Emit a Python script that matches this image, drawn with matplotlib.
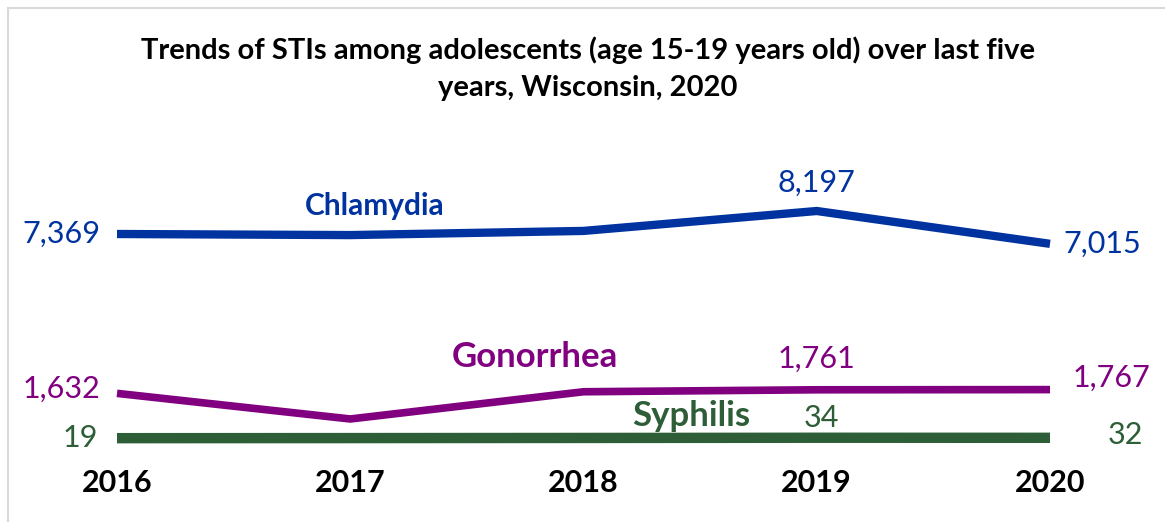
import matplotlib.pyplot as plt
from matplotlib.patches import Rectangle

years = ["2016", "2017", "2018", "2019", "2020"]
chlamydia = [7369, 7330, 7480, 8197, 7015]
gonorrhea = [1632, 710, 1690, 1761, 1767]
syphilis = [19, 22, 27, 34, 32]

BLUE = "#0033A0"
PURPLE = "#800080"
GREEN = "#2E5E37"
FONT = "Lato"

W, H = 1165, 522
fig = plt.figure(figsize=(W / 100, H / 100), dpi=100)

# chart area border (Excel style)
fig.patches.append(Rectangle((8 / W, -0.1), 1.2, 1 - 8 / H + 0.1, transform=fig.transFigure,
                             fill=False, edgecolor="#D9D9D9", linewidth=1.5))

# plot area: 2016 at x=117px, 2020 at x=1050px, y=0 at 438.7px, y=8197 at 211px
y0_px, ytop_px = 438.7, 211
ax = fig.add_axes([117 / W, 1 - y0_px / H, (1050 - 117) / W, (y0_px - ytop_px) / H])
ax.set_xlim(0, 4)
ax.set_ylim(0, 8197)

x = range(len(years))
ax.plot(x, syphilis, color=GREEN, lw=7.5, solid_capstyle="butt", solid_joinstyle="miter", clip_on=False)
ax.plot(x, gonorrhea, color=PURPLE, lw=5.5, solid_capstyle="butt", solid_joinstyle="miter", clip_on=False)
ax.plot(x, chlamydia, color=BLUE, lw=6, solid_capstyle="butt", solid_joinstyle="miter", clip_on=False)

for s in ax.spines.values():
    s.set_visible(False)
ax.set_yticks([])
ax.set_xticks(list(x))
ax.set_xticklabels(years, fontfamily=FONT, fontweight="bold", fontsize=22)
ax.tick_params(axis="x", length=0, pad=22)

lab = dict(fontfamily=FONT, fontsize=22, textcoords="offset pixels", va="center")


def label(series, i, dx, dy, ha, color):
    ax.annotate(f"{series[i]:,}", (i, series[i]), xytext=(dx, dy), ha=ha, color=color, **lab)


label(chlamydia, 0, -17, 0, "right", BLUE)
label(chlamydia, 3, 0, 28, "center", BLUE)
label(chlamydia, 4, 13, 0, "left", BLUE)
label(gonorrhea, 0, -17, 5, "right", PURPLE)
label(gonorrhea, 3, 0, 31, "center", PURPLE)
label(gonorrhea, 4, 23, 12, "left", PURPLE)
label(syphilis, 0, -19, 0, "right", GREEN)
label(syphilis, 3, 5, 20, "center", GREEN)
label(syphilis, 4, 58, 3, "left", GREEN)

# series names
ax.annotate("Chlamydia", (1, chlamydia[1]), xytext=(374 - 350, 236 - 207), textcoords="offset pixels",
            ha="center", va="center", color=BLUE, fontfamily=FONT, fontweight="bold", fontsize=21.5)
ax.annotate("Gonorrhea", (2, gonorrhea[2]), xytext=(534 - 583, 392 - 357), textcoords="offset pixels",
            ha="center", va="center", color=PURPLE, fontfamily=FONT, fontweight="bold", fontsize=25)
ax.annotate("Syphilis", (2, syphilis[2]), xytext=(691 - 583, 437 - 415), textcoords="offset pixels",
            ha="center", va="center", color=GREEN, fontfamily=FONT, fontweight="bold", fontsize=25)

fig.text(588 / W, 1 - 50 / H, "Trends of STIs among adolescents (age 15-19 years old) over last five",
         ha="center", va="center", fontfamily=FONT, fontweight="bold", fontsize=21)
fig.text(588 / W, 1 - 88 / H, "years, Wisconsin, 2020",
         ha="center", va="center", fontfamily=FONT, fontweight="bold", fontsize=21)

fig.savefig("out.png", dpi=100)
